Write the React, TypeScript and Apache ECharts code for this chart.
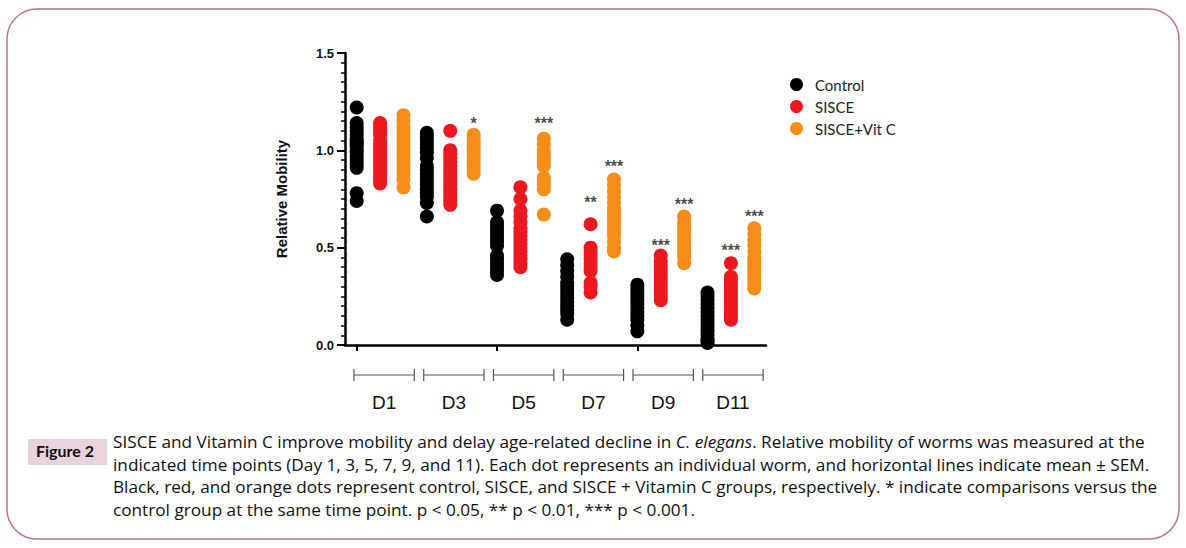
import React, { useEffect, useRef } from "react";
import * as echarts from "echarts";

const days = ["D1", "D3", "D5", "D7", "D9", "D11"];
const groups = ["Control", "SISCE", "SISCE+Vit C"];
const groupColors = ["#000000", "#ec1820", "#f58d1a"];

const controlValues = [
  [1.22, 1.14, 1.12, 1.1, 1.08, 1.06, 1.05, 1.04, 1.03, 1.02, 1.0, 0.99, 0.97, 0.95, 0.93, 0.91, 0.78, 0.74],
  [1.09, 1.07, 1.05, 1.03, 1.01, 0.99, 0.96, 0.92, 0.9, 0.88, 0.86, 0.84, 0.82, 0.8, 0.78, 0.76, 0.73, 0.66],
  [0.69, 0.63, 0.61, 0.59, 0.57, 0.55, 0.53, 0.51, 0.46, 0.44, 0.42, 0.4, 0.38, 0.36],
  [0.44, 0.41, 0.38, 0.35, 0.32, 0.3, 0.28, 0.26, 0.24, 0.22, 0.2, 0.18, 0.16, 0.13],
  [0.31, 0.29, 0.27, 0.25, 0.23, 0.21, 0.19, 0.17, 0.15, 0.13, 0.1, 0.07],
  [0.27, 0.25, 0.23, 0.21, 0.19, 0.17, 0.15, 0.13, 0.11, 0.09, 0.07, 0.05, 0.03, 0.02, 0.01],
];
const sisceValues = [
  [1.14, 1.12, 1.1, 1.08, 1.05, 1.03, 1.01, 0.99, 0.97, 0.95, 0.93, 0.91, 0.89, 0.87, 0.85, 0.83],
  [1.1, 1.0, 0.98, 0.96, 0.94, 0.92, 0.9, 0.88, 0.86, 0.84, 0.82, 0.8, 0.78, 0.76, 0.74, 0.72],
  [0.81, 0.75, 0.69, 0.66, 0.63, 0.6, 0.58, 0.56, 0.54, 0.52, 0.5, 0.48, 0.46, 0.44, 0.42, 0.4],
  [0.62, 0.5, 0.48, 0.46, 0.44, 0.42, 0.4, 0.38, 0.32, 0.3, 0.27],
  [0.46, 0.43, 0.41, 0.39, 0.37, 0.35, 0.33, 0.31, 0.29, 0.27, 0.25, 0.23],
  [0.42, 0.35, 0.33, 0.31, 0.29, 0.27, 0.25, 0.23, 0.21, 0.19, 0.17, 0.15, 0.13],
];
const vitcValues = [
  [1.18, 1.15, 1.12, 1.1, 1.08, 1.06, 1.04, 1.02, 1.0, 0.98, 0.96, 0.94, 0.92, 0.9, 0.88, 0.85, 0.81],
  [1.08, 1.06, 1.04, 1.02, 1.0, 0.98, 0.96, 0.94, 0.92, 0.9, 0.88],
  [1.06, 1.03, 1.0, 0.98, 0.96, 0.94, 0.92, 0.86, 0.84, 0.82, 0.8, 0.67],
  [0.85, 0.82, 0.79, 0.76, 0.73, 0.7, 0.68, 0.66, 0.64, 0.62, 0.6, 0.58, 0.56, 0.53, 0.5, 0.48],
  [0.66, 0.63, 0.61, 0.59, 0.57, 0.55, 0.53, 0.51, 0.49, 0.47, 0.45, 0.42],
  [0.6, 0.57, 0.54, 0.51, 0.48, 0.45, 0.43, 0.41, 0.39, 0.37, 0.35, 0.33, 0.31, 0.29],
];

// significance marks
const sigDay = [1, 2, 3, 3, 4, 4, 5, 5];
const sigGroup = [2, 2, 1, 2, 1, 2, 1, 2];
const sigLabel = ["*", "***", "**", "***", "***", "***", "***", "***"];
const sigY = [1.14, 1.14, 0.73, 0.915, 0.51, 0.72, 0.485, 0.658];

const yTicks = { min: 0, max: 1.5, interval: 0.5 };

const captionLines = [
  "SISCE and Vitamin C improve mobility and delay age-related decline in {i|C. elegans}. Relative mobility of worms was measured at the",
  "indicated time points (Day 1, 3, 5, 7, 9, and 11). Each dot represents an individual worm, and horizontal lines indicate mean ± SEM.",
  "Black, red, and orange dots represent control, SISCE, and SISCE + Vitamin C groups, respectively. * indicate comparisons versus the",
  "control group at the same time point. p < 0.05, ** p < 0.01, *** p < 0.001.",
];

const allValues = [controlValues, sisceValues, vitcValues];

export default function App() {
  const ref = useRef<HTMLDivElement>(null);
  useEffect(() => {
    if (!ref.current) return;
    const chart = echarts.init(ref.current, null, { renderer: "svg" });
    const cats: string[] = [];
    days.forEach((d) => groups.forEach((g) => cats.push(d + " " + g)));

    const scatterSeries = groups.map((g, gi) => ({
      name: g,
      type: "scatter",
      symbol: "circle",
      symbolSize: 14,
      itemStyle: { color: groupColors[gi], opacity: 1 },
      data: allValues[gi].flatMap((vals, di) => vals.map((v) => [di * 3 + gi, v])),
      z: 3,
    }));

    const sigSeries = {
      name: "sig",
      type: "scatter",
      symbolSize: 0,
      silent: true,
      data: sigLabel.map((l, i) => ({
        value: [sigDay[i] * 3 + sigGroup[i], sigY[i]],
        label: {
          show: true,
          formatter: l,
          position: "inside",
          color: "#1a1a1a",
          fontSize: 16,
          fontWeight: "bold",
          fontFamily: "Liberation Sans",
        },
      })),
    };

    const bracketSeries = {
      name: "brackets",
      type: "custom",
      silent: true,
      clip: false,
      data: days.map((d, di) => [di * 3 + 1, 0]),
      renderItem: (params: any, api: any) => {
        const di = params.dataIndex;
        const c = api.coord([api.value(0), 0]);
        const band = api.size([1, 0])[0];
        const cx = c[0] + 0.13 * band - (di - 2.5) * 0.4;
        const half = 1.29 * band;
        const y = c[1] + 30;
        const stroke = { stroke: "#555", lineWidth: 1.2 };
        return {
          type: "group",
          children: [
            { type: "line", shape: { x1: cx - half, y1: y, x2: cx + half, y2: y }, style: stroke },
            { type: "line", shape: { x1: cx - half, y1: y - 6, x2: cx - half, y2: y + 6 }, style: stroke },
            { type: "line", shape: { x1: cx + half, y1: y - 6, x2: cx + half, y2: y + 6 }, style: stroke },
            {
              type: "text",
              style: {
                text: days[di],
                x: cx,
                y: y + 27,
                align: "center",
                verticalAlign: "middle",
                fontSize: 19,
                fontFamily: "Liberation Sans",
                fill: "#111",
              },
            },
          ],
        };
      },
    };

    const captionGraphics = captionLines.map((t, i) => ({
      type: "text",
      left: 113,
      top: 433 + i * 22.5,
      style: {
        text: t,
        fontSize: 17.2,
        fontFamily: "Open Sans",
        fill: "#111",
        rich: {
          i: { fontStyle: "italic", fontSize: 17.2, fontFamily: "Open Sans", fill: "#111" },
        },
      },
    }));

    chart.setOption({
      animation: false,
      backgroundColor: "#ffffff",
      grid: { left: 345, right: 420, top: 53, bottom: 203 },
      legend: {
        data: groups,
        orient: "vertical",
        left: 790,
        top: 77,
        padding: 0,
        itemWidth: 27,
        itemHeight: 13,
        itemGap: 7,
        icon: "circle",
        textStyle: { fontFamily: "Lato", fontSize: 15, color: "#222" },
      },
      xAxis: {
        type: "category",
        data: cats,
        boundaryGap: true,
        axisLine: { show: true, lineStyle: { color: "#000", width: 2.5 } },
        axisTick: { show: true, alignWithLabel: true, length: 6, lineStyle: { color: "#000", width: 2 } },
        axisLabel: { show: false },
        splitLine: { show: false },
      },
      yAxis: {
        type: "value",
        min: yTicks.min,
        max: yTicks.max,
        interval: yTicks.interval,
        name: "Relative Mobility",
        nameLocation: "middle",
        nameGap: 56,
        nameTextStyle: { fontFamily: "Liberation Sans", fontWeight: "bold", fontSize: 15, color: "#111" },
        axisLine: { show: true, lineStyle: { color: "#000", width: 2.5 } },
        axisTick: { show: true, length: 8, lineStyle: { color: "#000", width: 2 } },
        minorTick: { show: true, splitNumber: 10, length: 4, lineStyle: { color: "#000", width: 1.5 } },
        axisLabel: {
          formatter: (v: number) => v.toFixed(1),
          fontFamily: "Liberation Sans",
          fontWeight: "bold",
          fontSize: 13,
          color: "#111",
          margin: 11,
        },
        splitLine: { show: false },
      },
      graphic: [
        {
          type: "rect",
          shape: { x: 7, y: 9, width: 1172, height: 530, r: 30 },
          style: { fill: "none", stroke: "#b8739c", lineWidth: 1.5 },
          silent: true,
        },
        {
          type: "rect",
          shape: { x: 28, y: 439, width: 79, height: 26 },
          style: { fill: "#e9d3df" },
          silent: true,
        },
        {
          type: "text",
          left: 36,
          top: 442,
          style: { text: "Figure 2", fontSize: 16, fontWeight: "bold", fontFamily: "Lato", fill: "#111" },
        },
        ...captionGraphics,
      ],
      series: [...scatterSeries, sigSeries, bracketSeries],
    });
    return () => chart.dispose();
  }, []);
  return (
    <div
      ref={ref}
      style={{ position: "absolute", left: 0, top: 0, width: 1186, height: 548, background: "#fff" }}
    />
  );
}
